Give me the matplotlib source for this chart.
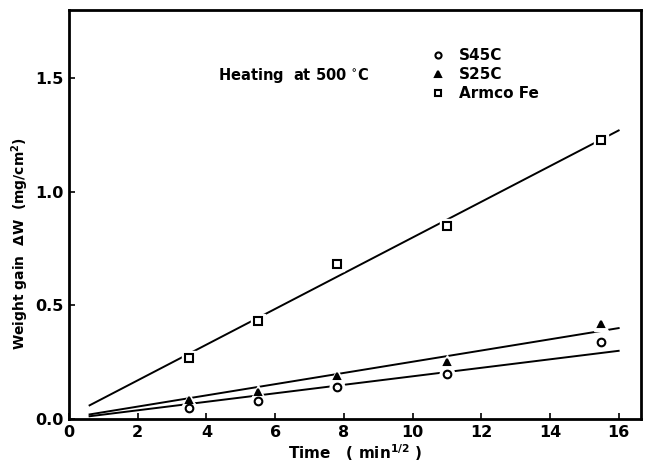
import matplotlib
matplotlib.use("Agg")
import matplotlib.pyplot as plt

plt.rcParams['font.family'] = ['DejaVu Sans']
plt.rcParams['font.weight'] = 'bold'
plt.rcParams['axes.labelweight'] = 'bold'
plt.rcParams['mathtext.default'] = 'bf'

# data
time = [3.5, 5.5, 7.8, 11.0, 15.5]
s45c = [0.05, 0.08, 0.14, 0.20, 0.34]
s25c = [0.085, 0.12, 0.19, 0.25, 0.42]
armco = [0.27, 0.43, 0.68, 0.85, 1.23]

fit_x = [0.6, 16.0]
fit_s45c = [0.012, 0.30]
fit_s25c = [0.02, 0.40]
fit_armco = [0.06, 1.27]

xticks = [0, 2, 4, 6, 8, 10, 12, 14, 16]
yticks = [0.0, 0.5, 1.0, 1.5]

fig = plt.figure(figsize=(6.47, 4.66), dpi=100)
ax = fig.add_axes([0.1066, 0.1009, 0.8841, 0.8776])

for fy in (fit_s45c, fit_s25c, fit_armco):
    ax.plot(fit_x, fy, color='black', lw=1.4, zorder=2)

series = [(s45c, 'o', 'white', 'S45C', 5.5),
          (s25c, '^', 'black', 'S25C', 5),
          (armco, 's', 'white', 'Armco Fe', 5.5)]
handles = []
for ys, m, fc, lab, ms in series:
    ax.plot(time, ys, ls='none', marker=m, ms=ms + 5, mfc='white', mec='white', zorder=3)
    h, = ax.plot(time, ys, ls='none', marker=m, ms=ms, mfc=fc, mec='black', mew=1.5,
                 zorder=4, label=lab)
    handles.append(h)

ax.set_xlim(0, 16.65)
ax.set_ylim(0, 1.8)
ax.set_xticks(xticks)
ax.set_xticklabels([str(t) for t in xticks])
ax.set_yticks(yticks)
ax.set_yticklabels([f"{t:.1f}" for t in yticks])
ax.tick_params(direction='in', length=4, width=1.2, labelsize=11.5, pad=4)
for s in ax.spines.values():
    s.set_linewidth(2)

ax.set_xlabel(r'Time   ( min$^{1/2}$ )', fontsize=11, labelpad=2)
ax.set_ylabel(r'Weight gain  $\Delta$W  (mg/cm$^2$)', fontsize=10)
ax.yaxis.set_label_coords(-0.066, 0.43)

ax.text(4.35, 1.51, 'Heating  at 500 $^{\\circ}$C', fontsize=10.5, va='center')

leg = ax.legend(handles=handles, loc='upper left', bbox_to_anchor=(0.607, 0.94),
                frameon=False, handlelength=1.0, handletextpad=0.9,
                labelspacing=0.25, fontsize=11, markerscale=0.8)

fig.savefig('out.png', dpi=100)
